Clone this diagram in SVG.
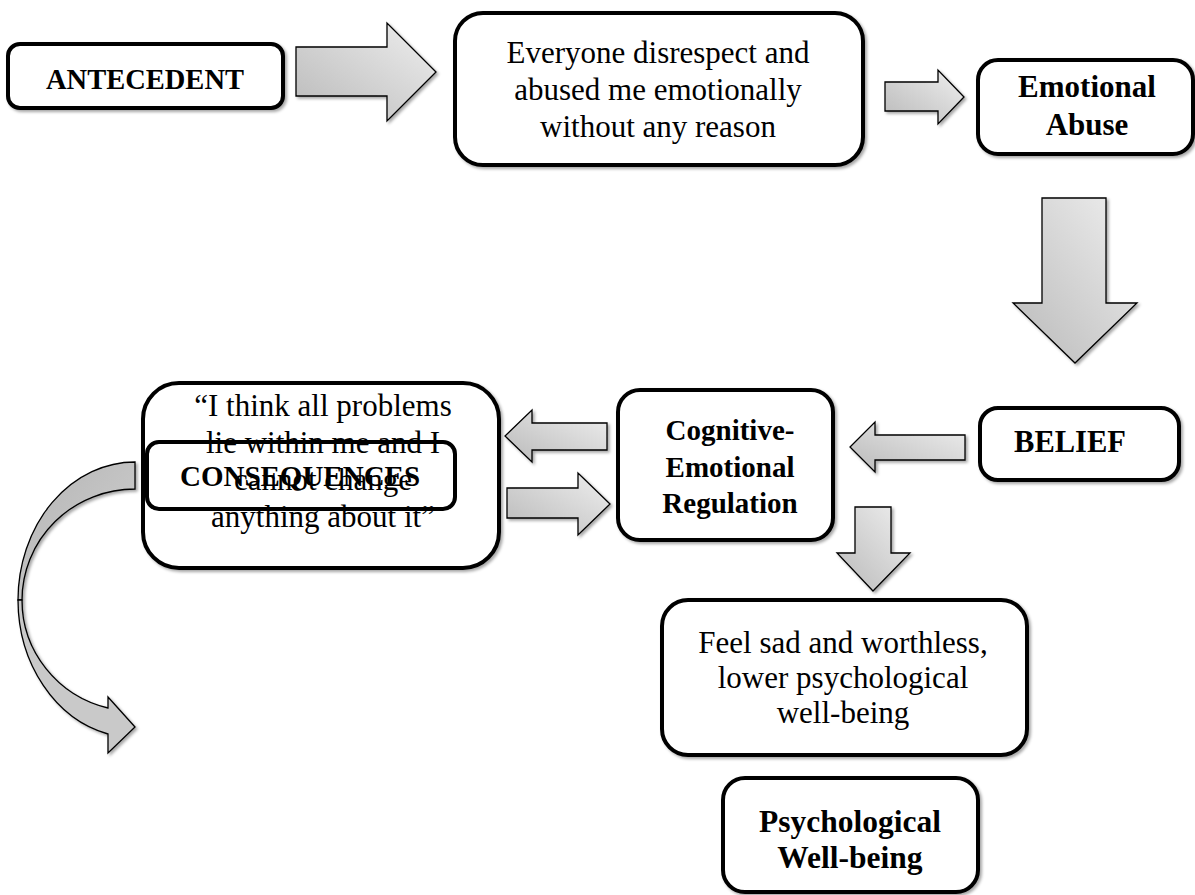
<svg xmlns="http://www.w3.org/2000/svg" width="1195" height="895" viewBox="0 0 1195 895">
<defs>
<linearGradient id="g" x1="0" y1="1" x2="1" y2="0">
<stop offset="0" stop-color="#b9b9b9"/>
<stop offset="1" stop-color="#efefef"/>
</linearGradient>
<linearGradient id="gc" x1="0" y1="0" x2="1" y2="1">
<stop offset="0" stop-color="#b4b4b4"/>
<stop offset="1" stop-color="#d2d2d2"/>
</linearGradient>
<filter id="sh" x="-20%" y="-20%" width="140%" height="140%">
<feDropShadow dx="2" dy="2" stdDeviation="1.5" flood-color="#000" flood-opacity="0.35"/>
</filter>
<style>
.box{fill:#fff;stroke:#000;stroke-width:4;filter:url(#sh)}
.obox{fill:none;stroke:#000;stroke-width:4}
.arr{fill:url(#g);stroke:#000;stroke-width:1.3;stroke-linejoin:miter;filter:url(#sh)}
.t{font-family:"Liberation Serif","Times New Roman",serif;font-size:31px;text-anchor:middle;fill:#000}
.b{font-family:"Liberation Serif","Times New Roman",serif;font-weight:bold;text-anchor:middle;fill:#000}
</style>
</defs>
<rect width="1195" height="895" fill="#fff"/>

<g id="connectors">
<polygon class="arr" points="296,47 387,47 387,23 436,72 387,121 387,96 296,96"/>
<polygon class="arr" points="885,82 938,82 938,70 964,97 938,124 938,111 885,111"/>
<polygon class="arr" points="1042,198 1106,198 1106,303 1137,303 1075,363 1013,303 1042,303"/>
<polygon class="arr" points="965,435 875,435 875,422 850,447 875,472 875,460 965,460"/>
<polygon class="arr" points="607,423 532,423 532,410 505,436 532,462 532,450 607,450"/>
<polygon class="arr" points="507,488 578,488 578,473 610,504 578,535 578,518 507,518"/>
<polygon class="arr" points="855,507 891,507 891,553 910,553 873,591 837,553 855,553"/>
<g id="curved" filter="url(#sh)">
<path d="M135,462 A117,138 0 0 0 18,600 L22,600 A113,111 0 0 1 135,489 Z" fill="url(#gc)" stroke="#000" stroke-width="1.3"/>
<path d="M18,600 A117,138 0 0 0 108,734 L108,753 L135,727 L108,697 L108,708 A113,111 0 0 1 22,600 Z" fill="#c9c9c9" stroke="#000" stroke-width="1.3"/>
</g>
</g>

<g id="antecedent">
<rect class="box" x="8" y="44" width="275" height="64" rx="12"/>
<text class="b" x="145" y="89" font-size="28.5">ANTECEDENT</text>
</g>

<g id="event">
<rect class="box" x="455" y="13" width="408" height="152" rx="28"/>
<text class="t" x="658" y="63" font-size="31.5">Everyone disrespect and</text>
<text class="t" x="658" y="100" font-size="31.5">abused me emotionally</text>
<text class="t" x="658" y="137" font-size="31.5">without any reason</text>
</g>

<g id="emotional-abuse">
<rect class="box" x="978" y="60" width="215" height="94" rx="20"/>
<text class="b" x="1087" y="97" font-size="31">Emotional</text>
<text class="b" x="1087" y="135" font-size="31">Abuse</text>
</g>

<g id="belief">
<rect class="box" x="980" y="408" width="199" height="72" rx="18"/>
<text class="b" x="1070" y="452" font-size="30.5">BELIEF</text>
</g>

<g id="cognitive">
<rect class="box" x="618" y="390" width="215" height="150" rx="22"/>
<text class="b" x="730" y="440" font-size="29">Cognitive-</text>
<text class="b" x="730" y="477" font-size="29">Emotional</text>
<text class="b" x="730" y="513" font-size="29">Regulation</text>
</g>

<g id="quote">
<rect class="box" x="143" y="383" width="356" height="185" rx="36"/>
<text class="t" x="323" y="416">“I think all problems</text>
<text class="t" x="323" y="453">lie within me and I</text>
<text class="t" x="323" y="490">cannot change</text>
<text class="t" x="323" y="527">anything about it”</text>
</g>

<g id="consequences">
<rect class="obox" x="147" y="442" width="308" height="67" rx="12"/>
<text class="b" x="300" y="486" font-size="29">CONSEQUENCES</text>
</g>

<g id="feel">
<rect class="box" x="662" y="600" width="365" height="155" rx="26"/>
<text class="t" x="843" y="653">Feel sad and worthless,</text>
<text class="t" x="843" y="688">lower psychological</text>
<text class="t" x="843" y="723">well-being</text>
</g>

<g id="psych-wellbeing">
<rect class="box" x="723" y="778" width="255" height="114" rx="22"/>
<text class="b" x="850" y="832" font-size="31.5">Psychological</text>
<text class="b" x="850" y="868" font-size="31.5">Well-being</text>
</g>
</svg>
